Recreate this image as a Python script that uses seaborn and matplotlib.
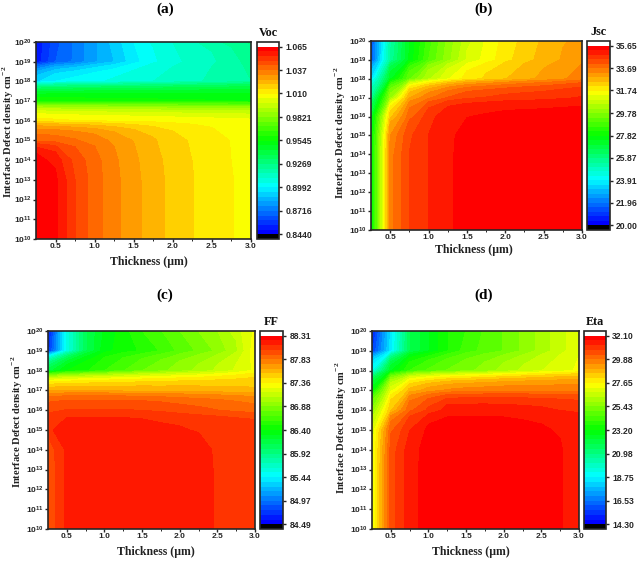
import matplotlib
matplotlib.use("Agg")
import matplotlib.pyplot as plt
import numpy as np
import seaborn as sns

thickness = [0.25, 0.5, 0.75, 1.0, 1.25, 1.5, 1.75, 2.0, 2.25, 2.5, 2.75, 3.0]
defect_exp = [10, 11, 12, 13, 14, 15, 16, 17, 18, 19, 20]

# rows run from 1e10 to 1e20, columns follow thickness
voc = [
    [1.064, 1.0605, 1.0484, 1.040, 1.0336, 1.028, 1.0235, 1.0188, 1.0155, 1.0126, 1.0099, 1.0085],
    [1.064, 1.0605, 1.0484, 1.040, 1.0336, 1.028, 1.0235, 1.0188, 1.0155, 1.0126, 1.0099, 1.0085],
    [1.064, 1.0605, 1.0484, 1.040, 1.0336, 1.028, 1.0235, 1.0188, 1.0155, 1.0126, 1.0099, 1.0085],
    [1.064, 1.0605, 1.0484, 1.040, 1.0336, 1.028, 1.0235, 1.0188, 1.0155, 1.0126, 1.0099, 1.0085],
    [1.0625, 1.057, 1.0465, 1.0395, 1.033, 1.0275, 1.023, 1.0183, 1.0152, 1.0124, 1.0097, 1.0083],
    [1.041, 1.040, 1.038, 1.035, 1.0305, 1.026, 1.0215, 1.0175, 1.0145, 1.012, 1.0095, 1.008],
    [1.012, 1.011, 1.010, 1.0095, 1.009, 1.0085, 1.008, 1.0075, 1.007, 1.0065, 1.006, 1.0055],
    [0.958, 0.9577, 0.9573, 0.957, 0.9566, 0.9563, 0.956, 0.9556, 0.9553, 0.955, 0.9546, 0.9543],
    [0.8926, 0.8993, 0.9015, 0.9037, 0.9059, 0.9081, 0.9103, 0.9125, 0.9147, 0.9169, 0.9191, 0.9213],
    [0.8506, 0.8661, 0.8727, 0.8816, 0.8882, 0.8970, 0.9037, 0.9081, 0.9125, 0.9147, 0.9191, 0.9236],
    [0.8506, 0.8639, 0.8727, 0.8816, 0.8904, 0.8993, 0.9059, 0.9103, 0.9147, 0.9191, 0.9236, 0.928],
]
jsc = [
    [27.5, 33.5, 34.48, 34.87, 35.23, 35.32, 35.38, 35.42, 35.45, 35.47, 35.5, 35.5],
    [27.5, 33.5, 34.48, 34.87, 35.23, 35.32, 35.38, 35.42, 35.45, 35.47, 35.5, 35.5],
    [27.5, 33.5, 34.48, 34.87, 35.23, 35.32, 35.38, 35.42, 35.45, 35.47, 35.5, 35.5],
    [27.5, 33.5, 34.48, 34.87, 35.23, 35.32, 35.38, 35.42, 35.45, 35.47, 35.5, 35.5],
    [27.5, 33.5, 34.48, 34.87, 35.23, 35.32, 35.38, 35.42, 35.45, 35.47, 35.5, 35.5],
    [27.4, 33.3, 34.4, 34.87, 35.22, 35.32, 35.37, 35.4, 35.43, 35.45, 35.47, 35.48],
    [27.0, 32.4, 33.9, 34.7, 35.15, 35.25, 35.3, 35.35, 35.37, 35.38, 35.4, 35.4],
    [25.5, 30.0, 32.9, 33.6, 34.1, 34.4, 34.5, 34.6, 34.65, 34.7, 34.8, 34.9],
    [23.5, 27.3, 29.3, 30.5, 31.3, 31.9, 32.2, 32.5, 32.8, 33.0, 33.25, 33.5],
    [21.5, 25.5, 27.5, 29.0, 30.0, 31.0, 31.5, 32.0, 32.35, 32.7, 32.95, 33.2],
    [21.3, 25.3, 27.4, 28.8, 29.9, 30.8, 31.4, 31.9, 32.25, 32.6, 32.85, 33.1],
]
ff = [
    [87.95, 88.14, 88.18, 88.19, 88.2, 88.2, 88.2, 88.18, 88.15, 88.11, 88.09, 88.08],
    [87.95, 88.14, 88.18, 88.19, 88.2, 88.2, 88.2, 88.18, 88.15, 88.11, 88.09, 88.08],
    [87.95, 88.14, 88.18, 88.19, 88.2, 88.2, 88.2, 88.18, 88.15, 88.11, 88.09, 88.08],
    [87.95, 88.14, 88.18, 88.19, 88.2, 88.2, 88.2, 88.18, 88.15, 88.11, 88.09, 88.08],
    [87.96, 88.14, 88.18, 88.19, 88.2, 88.2, 88.2, 88.18, 88.14, 88.11, 88.09, 88.08],
    [88.1, 88.17, 88.17, 88.17, 88.17, 88.16, 88.14, 88.13, 88.11, 88.1, 88.09, 88.08],
    [87.99, 88.03, 88.03, 88.03, 88.03, 88.02, 88.0, 87.97, 87.95, 87.93, 87.9, 87.87],
    [87.62, 87.62, 87.62, 87.62, 87.61, 87.61, 87.6, 87.6, 87.59, 87.58, 87.57, 87.56],
    [86.15, 86.4, 86.48, 86.59, 86.68, 86.78, 86.85, 86.93, 87.0, 87.09, 87.18, 87.28],
    [84.7, 85.55, 86.09, 86.36, 86.45, 86.51, 86.6, 86.71, 86.8, 86.9, 87.05, 87.32],
    [84.6, 85.55, 86.09, 86.32, 86.45, 86.59, 86.68, 86.78, 86.88, 86.97, 87.12, 87.28],
]
eta = [
    [27.1, 30.55, 31.47, 31.85, 31.88, 31.9, 31.9, 31.88, 31.82, 31.75, 31.67, 31.55],
    [27.1, 30.55, 31.47, 31.85, 31.88, 31.9, 31.9, 31.88, 31.82, 31.75, 31.67, 31.55],
    [27.1, 30.55, 31.47, 31.85, 31.88, 31.9, 31.9, 31.88, 31.82, 31.75, 31.67, 31.55],
    [27.1, 30.55, 31.47, 31.85, 31.88, 31.9, 31.9, 31.88, 31.82, 31.75, 31.67, 31.55],
    [27.0, 30.5, 31.45, 31.85, 31.88, 31.9, 31.9, 31.88, 31.82, 31.75, 31.67, 31.55],
    [26.8, 30.2, 31.2, 31.75, 31.82, 31.85, 31.85, 31.82, 31.76, 31.7, 31.62, 31.5],
    [25.5, 28.5, 30.2, 30.85, 31.4, 31.42, 31.42, 31.4, 31.35, 31.3, 31.2, 31.1],
    [23.0, 27.0, 28.7, 29.2, 29.5, 29.6, 29.65, 29.7, 29.7, 29.7, 29.7, 29.7],
    [19.1, 22.7, 24.1, 24.6, 25.0, 25.3, 25.6, 26.05, 26.4, 26.75, 27.0, 27.3],
    [15.5, 18.5, 21.8, 22.7, 23.6, 24.3, 24.7, 25.0, 25.5, 26.05, 26.6, 27.1],
    [14.9, 18.4, 21.8, 22.7, 23.6, 24.1, 24.6, 25.0, 25.5, 26.05, 26.6, 27.1],
]

voc_ticks = [0.8440, 0.8716, 0.8992, 0.9269, 0.9545, 0.9821, 1.010, 1.037, 1.065]
voc_labels = ["0.8440", "0.8716", "0.8992", "0.9269", "0.9545", "0.9821", "1.010", "1.037", "1.065"]
jsc_ticks = [20.00, 21.96, 23.91, 25.87, 27.82, 29.78, 31.74, 33.69, 35.65]
jsc_labels = ["20.00", "21.96", "23.91", "25.87", "27.82", "29.78", "31.74", "33.69", "35.65"]
ff_ticks = [84.49, 84.97, 85.44, 85.92, 86.40, 86.88, 87.36, 87.83, 88.31]
ff_labels = ["84.49", "84.97", "85.44", "85.92", "86.40", "86.88", "87.36", "87.83", "88.31"]
eta_ticks = [14.30, 16.53, 18.75, 20.98, 23.20, 25.43, 27.65, 29.88, 32.10]
eta_labels = ["14.30", "16.53", "18.75", "20.98", "23.20", "25.43", "27.65", "29.88", "32.10"]

W, H = 640, 561
SERIF = "Liberation Serif"
SANS = "Liberation Sans"

sns.set_theme(style="ticks")
plt.rcParams.update(
    {
        "font.family": [SANS, "DejaVu Sans"],
        "font.weight": "bold",
        "mathtext.fontset": "custom",
        "mathtext.bf": "Liberation Sans:bold",
        "mathtext.rm": "Liberation Serif:bold",
        "axes.linewidth": 1.2,
    }
)

colours = sns.blend_palette(["#0000ff", "#00ffff", "#00ff00", "#ffff00", "#ff0000"], 40)


def box(x0, y0, x1, y1):
    # pixel box, y measured from the top of the image
    return [x0 / W, 1 - y1 / H, (x1 - x0) / W, (y1 - y0) / H]


def panel(fig, values, ticks, labels, name, tag, ax_box, bar_box, tag_xy, xlabel_xy, ylabel_xy):
    ax = fig.add_axes(box(*ax_box))
    cax = fig.add_axes(box(*bar_box))

    step = (ticks[-1] - ticks[0]) / 40
    levels = ticks[0] + step * np.arange(-1, 42)
    band_colours = ["#000000"] + list(colours) + ["#ffffff"]

    yy = 10.0 ** np.array(defect_exp)
    cs = ax.contourf(thickness, yy, np.array(values), levels=levels, colors=band_colours)
    ax.set_yscale("log")
    ax.set_xlim(0.25, 3.0)
    ax.set_ylim(1e10, 1e20)
    ax.set_xticks([0.5, 1.0, 1.5, 2.0, 2.5, 3.0])
    ax.set_xticks([0.75, 1.25, 1.75, 2.25, 2.75], minor=True)
    ax.set_yticks(yy)
    ax.set_yticklabels([rf"$\mathbf{{10^{{{e}}}}}$" for e in defect_exp])
    ax.tick_params(axis="both", which="major", labelsize=6.0, length=2, width=1, pad=1)
    ax.tick_params(axis="both", which="minor", length=1.5, width=0.7, labelleft=False)

    cbar = fig.colorbar(cs, cax=cax)
    cbar.set_ticks(ticks, labels=labels)
    cbar.minorticks_off()
    cbar.ax.tick_params(labelsize=6.2, length=2.5, width=1, pad=2)
    cbar.outline.set_linewidth(1.2)
    cax.text(0.5, 1.015, name, transform=cax.transAxes, ha="center", va="bottom",
             family=SERIF, fontweight="bold", fontsize=8.7, color="#111111")

    fig.text(tag_xy[0] / W, 1 - tag_xy[1] / H, tag, ha="center", va="center",
             family=SERIF, fontweight="bold", fontsize=11, color="black")
    fig.text(xlabel_xy[0] / W, 1 - xlabel_xy[1] / H, "Thickness (µm)", ha="center", va="center",
             family=SERIF, fontweight="bold", fontsize=8.5, color="#222222")
    fig.text(ylabel_xy[0] / W, 1 - ylabel_xy[1] / H, r"Interface Defect density cm$^{\mathrm{-2}}$",
             ha="center", va="center", rotation=90,
             family=SERIF, fontweight="bold", fontsize=7.6, color="#222222")


fig = plt.figure(figsize=(W / 100, H / 100), dpi=100)
panel(fig, voc, voc_ticks, voc_labels, "Voc", "(a)", (36, 42, 251, 239), (257, 42, 279, 239),
      (165, 9), (149, 262), (8, 132))
panel(fig, jsc, jsc_ticks, jsc_labels, "Jsc", "(b)", (371, 41, 582, 230), (587, 41, 610, 230),
      (484, 9), (474, 250), (340, 133))
panel(fig, ff, ff_ticks, ff_labels, "FF", "(c)", (48, 331, 255, 529), (260, 331, 283, 529),
      (165, 295), (156, 552), (17, 422))
panel(fig, eta, eta_ticks, eta_labels, "Eta", "(d)", (372, 331, 579, 529), (584, 331, 606, 529),
      (484, 295), (471, 552), (341, 428))

fig.savefig("out.png", dpi=100)
